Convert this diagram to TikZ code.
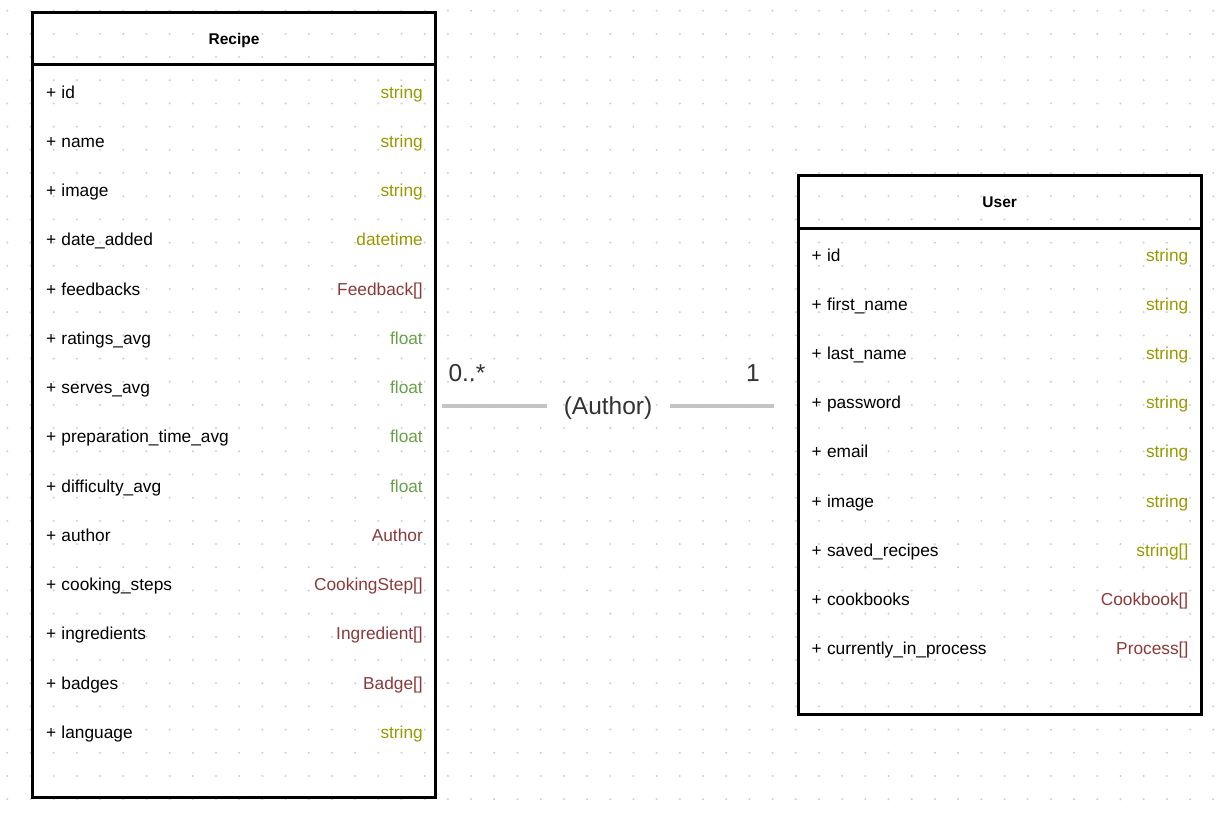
\documentclass[tikz,border=0pt]{standalone}
\usepackage{fontspec}
\setmainfont{Liberation Sans}

\definecolor{tstr}{HTML}{999900}
\definecolor{tnum}{HTML}{6A9F4A}
\definecolor{tobj}{HTML}{8B3A3A}
\definecolor{dotgray}{HTML}{D0D0D0}
\definecolor{linkgray}{HTML}{C4C4C4}
\definecolor{labelgray}{HTML}{333333}

\tikzset{
  classbox/.style={draw=black, line width=3pt, anchor=north west, inner sep=0pt, outer sep=0pt},
  classtitle/.style={anchor=base, font=\fontsize{15.5}{18}\selectfont\bfseries, inner sep=0pt},
  attr/.style={anchor=base west, font=\fontsize{17.3}{20}\selectfont, inner sep=0pt},
  atype/.style={anchor=base east, font=\fontsize{17.3}{20}\selectfont, inner sep=0pt},
  mult/.style={font=\fontsize{24.5}{28}\selectfont, text=labelgray, inner sep=0pt},
  assoc/.style={draw=linkgray, line width=4pt},
}

\begin{document}
\begin{tikzpicture}[x=1pt, y=-1pt]

\useasboundingbox[fill=white] (0,0) rectangle (1230,818);

% grid
\foreach \i in {0,...,52}
  \foreach \j in {0,...,34}
    \fill[dotgray] (7.3+23.19*\i, 10.7+23.19*\j) circle (1.15pt);

% Recipe
\node[classbox, minimum width=403.5pt, minimum height=784.7pt] (recipe) at (32.2,13) {};
\draw[line width=3pt] (recipe.west |- 0,65) -- (recipe.east |- 0,65);
\node[classtitle] (recipeTitle) at (234,44.7) {Recipe};
\foreach \attr/\typ/\col [count=\k from 0] in {id/string/tstr, name/string/tstr, image/string/tstr,
    date\_added/datetime/tstr, feedbacks/Feedback[]/tobj, ratings\_avg/float/tnum,
    serves\_avg/float/tnum, preparation\_time\_avg/float/tnum, difficulty\_avg/float/tnum,
    author/Author/tobj, cooking\_steps/CookingStep[]/tobj, ingredients/Ingredient[]/tobj,
    badges/Badge[]/tobj, language/string/tstr}
{
  \node[attr] (recipeAttr\k) at (46, 98.3+49.23*\k) {+\hspace{0.3em}\attr};
  \node[atype, text=\col] (recipeType\k) at (423, 98.3+49.23*\k) {\typ};
}

% User
\node[classbox, minimum width=403.5pt, minimum height=539pt] (user) at (798,175.5) {};
\draw[line width=3pt] (user.west |- 0,228.5) -- (user.east |- 0,228.5);
\node[classtitle] (userTitle) at (999.7,207.5) {User};
\foreach \attr/\typ/\col [count=\k from 0] in {id/string/tstr, first\_name/string/tstr,
    last\_name/string/tstr, password/string/tstr, email/string/tstr, image/string/tstr,
    saved\_recipes/string[]/tstr, cookbooks/Cookbook[]/tobj,
    currently\_in\_process/Process[]/tobj}
{
  \node[attr] (userAttr\k) at (811.5, 261+49.23*\k) {+\hspace{0.3em}\attr};
  \node[atype, text=\col] (userType\k) at (1188.5, 261+49.23*\k) {\typ};
}

% association
\node[mult, minimum width=122.6pt] (author) at (608,408.5) {(Author)};
\draw[assoc] ([xshift=6pt]recipe.east |- 0,405.7) -- (author.west |- 0,405.7);
\draw[assoc] (author.east |- 0,405.7) -- ([xshift=-23.7pt]user.west |- 0,405.7);
\node[mult, anchor=base west] (multRecipe) at (448.3,381.5) {0..*};
\node[mult, anchor=base east] (multUser) at (760,381.5) {1};

\end{tikzpicture}
\end{document}
